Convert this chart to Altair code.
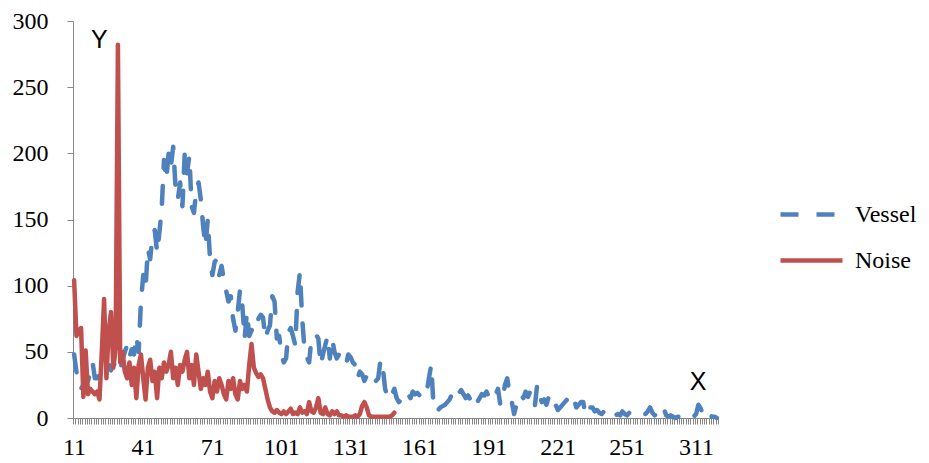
import altair as alt
import pandas as pd

# ---- data ----
series_names = ["Vessel", "Noise"]
x_tick_labels = ["11", "41", "71", "101", "131", "161", "191", "221", "251", "311"]
n_categories = 280

vessel = [
    48, 35, 28, 22, 25, 30, 28, 35, 42, 30,
    30, 33, 36, 34, 38, 40, 36, 42, 38, 40,
    36, 44, 50, 55, 46, 52, 48, 62, 50, 88,
    108, 98, 128, 120, 138, 142, 125, 140, 158, 195,
    180, 200, 190, 205, 175, 165, 178, 160, 200, 185,
    198, 160, 155, 172, 178, 165, 145, 130, 150, 120,
    108, 118, 120, 108, 115, 104, 96, 88, 92, 75,
    66, 80, 97, 85, 60, 80, 62, 66, 70, 68,
    75, 78, 76, 60, 66, 70, 92, 88, 60, 62,
    48, 42, 45, 65, 68, 62, 55, 95, 110, 75,
    52, 46, 42, 60, 62, 63, 60, 40, 48, 55,
    62, 45, 60, 50, 45, 48, 44, 42, 40, 48,
    46, 42, 40, 30, 35, 33, 28, 32, 30, 27,
    25, 28, 30, 44, 38, 22, 16, 20, 18, 22,
    15, 12, 14, 16, 14, 18, 15, 20, 18, 19,
    17, 20, 18, 19, 30, 40, 10, 5, 6, 8,
    9, 10, 12, 14, 18, 20, 16, 19, 21, 18,
    15, 17, 14, 8, 10, 12, 15, 18, 17, 20,
    16, 19, 21, 18, 22, 10, 14, 25, 30, 18,
    12, 3, 10, 14, 18, 15, 20, 16, 20, 12,
    9, 25, 18, 12, 14, 10, 16, 14, 8, 10,
    6, 8, 10, 12, 14, 12, 10, 14, 8, 10,
    12, 12, 2, 6, 8, 8, 5, 6, 4, 3,
    5, 5, 2, 3, 4, 2, 3, 2, 5, 3,
    2, 4, 3, 2, 2, 1, 2, 3, 3, 5,
    8, 4, 2, 3, 1, 5, 7, 2, 1, 2,
    1, 0, 1, 1, 0, 1, 1, 1, 2, 1,
    3, 10, 7, 3, 6, 3, 2, 1, 1, 0,
]

noise = [
    104, 62, 66, 68, 16, 51, 18, 22, 20, 18,
    20, 14, 50, 90, 30, 66, 80, 38, 52, 282,
    42, 50, 35, 30, 42, 25, 38, 15, 40, 48,
    30, 14, 38, 44, 28, 35, 15, 38, 30, 42,
    35, 40, 50, 30, 38, 25, 40, 35, 44, 50,
    30, 40, 25, 48, 35, 22, 30, 25, 35, 20,
    15, 28, 20, 30, 25, 18, 14, 28, 22, 30,
    18, 14, 28, 22, 25, 20, 40, 56, 38, 34,
    31, 33, 30, 22, 14, 8, 5, 4, 6, 4,
    3, 5, 3, 5, 7, 3, 4, 3, 8, 4,
    5, 3, 12, 5, 4, 8, 15, 4, 3, 8,
    3, 2, 5, 3, 5, 2, 2, 1, 2, 1,
    1, 1, 2, 1, 3, 9, 12, 8, 2, 1,
    1, 1, 1, 1, 1, 1, 1, 1, 2, 4,
]

annot_text = ["Y", "X"]
annot_x = [11.4, 271.4]
annot_y = [286, 27]

assert len(vessel) == n_categories, len(vessel)

rows = []
for i, v in enumerate(vessel):
    rows.append({"idx": i + 0.5, "value": v, "series": "Vessel"})
for i, v in enumerate(noise):
    rows.append({"idx": i + 0.5, "value": v, "series": "Noise"})
df = pd.DataFrame(rows)
ann = pd.DataFrame({"t": annot_text, "idx": annot_x, "value": annot_y})

labels_js = "[" + ",".join(f"'{s}'" for s in x_tick_labels) + "]"
label_expr = (
    f"(datum.value % 30 == 0 && datum.value <= {30 * (len(x_tick_labels) - 1)}) ? "
    f"{labels_js}[datum.value / 30] : ''"
)

BLUE = "#4F81BD"
RED = "#C0504D"
AXIS_GRAY = "#868686"

x_scale = alt.Scale(domain=[0, n_categories], nice=False, zero=False)
y_scale = alt.Scale(domain=[0, 300], nice=False)

x_enc = alt.X(
    "idx:Q",
    scale=x_scale,
    axis=alt.Axis(
        values=list(range(0, n_categories + 1)),
        labelExpr=label_expr,
        labelOverlap=False,
        labelBound=False,
        labelFlush=False,
        labelOffset=1,
        tickSize=6,
        tickColor=AXIS_GRAY,
        domainColor=AXIS_GRAY,
        labelPadding=11,
        labelFont="Liberation Serif",
        labelFontSize=24,
        labelColor="black",
        grid=False,
        title=None,
    ),
)
y_enc = alt.Y(
    "value:Q",
    scale=y_scale,
    axis=alt.Axis(
        values=[0, 50, 100, 150, 200, 250, 300],
        tickSize=6,
        tickColor=AXIS_GRAY,
        domainColor=AXIS_GRAY,
        labelPadding=19,
        labelFont="Liberation Serif",
        labelFontSize=24,
        labelColor="black",
        grid=False,
        title=None,
    ),
)
color_enc = alt.Color(
    "series:N",
    scale=alt.Scale(domain=series_names, range=[BLUE, RED]),
    legend=alt.Legend(
        title=None,
        orient="none",
        legendX=705,
        legendY=160,
        symbolType="stroke",
        symbolSize=3844,
        symbolStrokeWidth=4.5,
        labelFont="Liberation Serif",
        labelFontSize=24,
        labelColor="black",
        labelOffset=10,
        rowPadding=-19,
        padding=0,
    ),
)
dash_enc = alt.StrokeDash(
    "series:N",
    scale=alt.Scale(domain=series_names, range=[[18, 18], [1, 0]]),
    legend=alt.Legend(title=None),
)

base = alt.Chart(df).encode(x=x_enc, y=y_enc, color=color_enc, strokeDash=dash_enc)

vessel_line = base.transform_filter(alt.datum.series == "Vessel").mark_line(
    strokeWidth=4.5, strokeCap="round", strokeJoin="round"
)
noise_line = base.transform_filter(alt.datum.series == "Noise").mark_line(
    strokeWidth=4.5, strokeCap="round", strokeJoin="round"
)

annots = alt.Chart(ann).mark_text(
    font="Liberation Sans", fontSize=25, color="black", baseline="middle", align="center"
).encode(x=x_enc, y=y_enc, text="t:N")

chart = (
    alt.layer(vessel_line, noise_line, annots)
    .properties(
        width=645,
        height=397,
        autosize=alt.AutoSizeParams(type="none"),
        padding={"left": 73, "top": 21, "right": 211, "bottom": 45},
        background="white",
    )
    .configure_view(stroke=None)
)

chart.save("out.html", embed_options={"renderer": "svg", "actions": False})
